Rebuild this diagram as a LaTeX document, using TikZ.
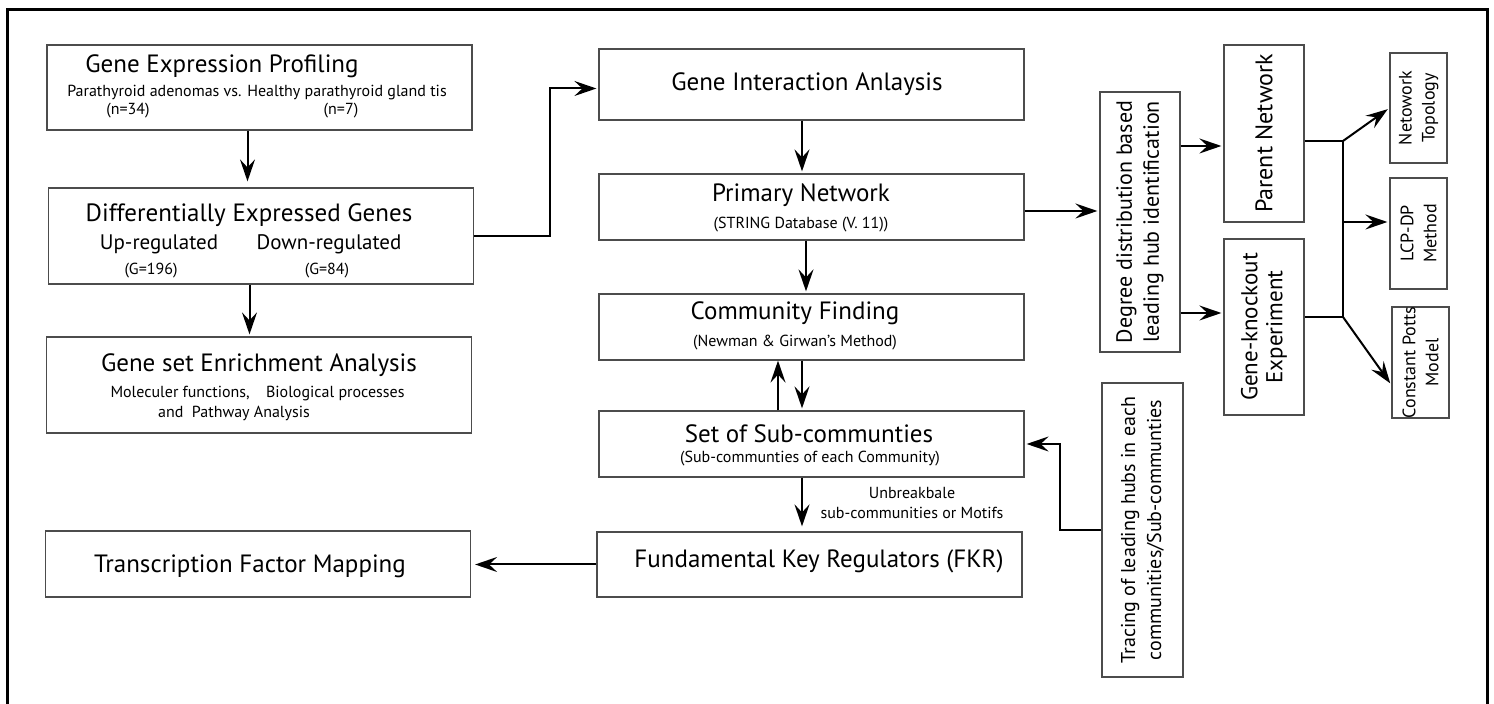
\documentclass[tikz,border=0pt]{standalone}
\usepackage{fontspec}
\setmainfont{PT Sans}
\usetikzlibrary{arrows.meta}

\tikzset{
  box/.style={draw=black!70, line width=0.6pt, minimum width=212.5pt, inner sep=0pt},
  vbox/.style={draw=black!70, line width=0.6pt, inner sep=0pt},
  flow/.style={->, line width=1pt, shorten >=1pt},
  ttl/.style={anchor=base, font=\fontsize{12.5}{15}\selectfont},
  mid/.style={anchor=base, font=\fontsize{10.5}{12}\selectfont},
  sub/.style={anchor=base, font=\fontsize{8}{10}\selectfont},
  tiny/.style={anchor=base, font=\fontsize{8}{9}\selectfont},
  rot/.style={rotate=90, align=center, font=\fontsize{11}{13.5}\selectfont},
  rsm/.style={rotate=90, align=center, font=\fontsize{9}{11.5}\selectfont},
  >={Stealth[length=11pt,width=7.5pt,inset=4pt]}
}

\begin{document}
\begin{tikzpicture}[x=0.5pt, y=-0.5pt]
    \useasboundingbox (0,0) rectangle (1494,704);
    % frame
    \draw[line width=1.5pt] (7.5,704) -- (7.5,10) -- (1487.5,10) -- (1487.5,704);

    % left column
    \node[box, minimum height=42.5pt] (gep) at (259.5,87.5) {};
    \node[ttl] (gep-t) at (222,73) {Gene Expression Profiling};
    \node[sub] (gep-s) at (257,97) {Parathyroid adenomas vs. Healthy parathyroid gland tis};
    \node[tiny] (gep-a) at (128,115) {(n=34)};
    \node[tiny] (gep-b) at (341,115) {(n=7)};

    \node[box, minimum height=48pt] (deg) at (261,236) {};
    \node[ttl] (deg-t) at (249,222) {Differentially Expressed Genes};
    \node[mid] (deg-up) at (159,250) {Up-regulated};
    \node[mid] (deg-dn) at (329,250) {Down-regulated};
    \node[tiny] (deg-a) at (151,275) {(G=196)};
    \node[tiny] (deg-b) at (327,275) {(G=84)};

    \node[box, minimum height=48pt] (gsea) at (259,385) {};
    \node[ttl] (gsea-t) at (259,372) {Gene set Enrichment Analysis};
    \node[sub] (gsea-s) at (257.5,398) {Moleculer functions,\hspace{6pt} Biological processes};
    \node[sub] (gsea-r) at (234,418) {and\ \ Pathway Analysis};

    \node[box, minimum height=33pt] (tfm) at (258,564) {};
    \node[ttl] (tfm-t) at (250,573) {Transcription Factor Mapping};

    % middle column
    \node[box, minimum height=35.5pt] (gia) at (811.5,84.5) {};
    \node[ttl] (gia-t) at (807,91) {Gene Interaction Anlaysis};

    \node[box, minimum height=33pt] (pnet) at (811.5,207) {};
    \node[ttl] (pnet-t) at (801,202) {Primary Network};
    \node[sub] (pnet-s) at (801,229) {(STRING Database (V. 11))};

    \node[box, minimum height=33pt] (cf) at (811.5,327) {};
    \node[ttl] (cf-t) at (795,320) {Community Finding};
    \node[sub] (cf-s) at (795,347) {(Newman \& Girwan’s Method)};

    \node[box, minimum height=33pt] (sos) at (811.5,444) {};
    \node[ttl] (sos-t) at (809,443) {Set of Sub-communties};
    \node[sub] (sos-s) at (810,463) {(Sub-communties of each Community)};

    \node[box, minimum height=32.5pt] (fkr) at (809.5,564.5) {};
    \node[ttl] (fkr-t) at (819,568) {Fundamental Key Regulators (FKR)};

    \node[align=center, font=\fontsize{8}{10}\selectfont] (motif) at (912,503) {Unbreakbale\\sub-communities or Motifs};

    % right part
    \node[vbox, minimum width=40pt, minimum height=130pt] (degree) at (1140,222) {};
    \node[rot] (degree-t) at (degree) {Degree distribution based\\leading hub identification};
    \node[vbox, minimum width=40pt, minimum height=88.5pt] (parent) at (1264,133.5) {};
    \node[rot, font=\fontsize{12}{13.5}\selectfont] (parent-t) at (parent) {Parent Network};
    \node[vbox, minimum width=40pt, minimum height=88pt] (gko) at (1264,327) {};
    \node[rot, font=\fontsize{11.5}{12.5}\selectfont] (gko-t) at (gko) {Gene-knockout\\Experiment};
    \node[vbox, minimum width=28.5pt, minimum height=55pt] (topo) at (1418.5,108) {};
    \node[rsm] (topo-t) at (topo) {Netowork\\Topology};
    \node[vbox, minimum width=28.5pt, minimum height=55.5pt] (lcp) at (1418.5,233.5) {};
    \node[rsm] (lcp-t) at (lcp) {LCP-DP\\Method};
    \node[vbox, minimum width=28.5pt, minimum height=55.5pt] (cpm) at (1420.5,362.5) {};
    \node[rsm] (cpm-t) at (cpm) {Constant Potts\\Model};
    \node[vbox, minimum width=40.5pt, minimum height=147pt] (tracing) at (1142.5,530) {};
    \node[rot, font=\fontsize{10}{13}\selectfont] (tracing-t) at (tracing) {Tracing of leading hubs in each\\communities/Sub-communties};

    \coordinate (jt) at (1343,141);
    \coordinate (jm) at (1343,222);
    \coordinate (jb) at (1343,317);

    % connectors
    \draw[flow, shorten >=3pt] ([xshift=-6pt]gep.south) -- ([xshift=-6pt]gep.south |- deg.north);
    \draw[flow] ([xshift=-5.75pt]deg.south) -- ([xshift=-5.75pt]deg.south |- gsea.north);
    \draw[flow] (deg.east) -- ++(38pt,0) |- ([yshift=-2pt]gia.west);
    \draw[flow] ([xshift=-4.75pt]gia.south) -- ([xshift=-4.75pt]gia.south |- pnet.north);
    \draw[flow] ([xshift=-2.75pt]pnet.south) -- ([xshift=-2.75pt]pnet.south |- cf.north);
    \draw[flow, shorten >=0pt] ([xshift=-16.75pt]sos.north) -- ([xshift=-16.75pt]sos.north |- cf.south);
    \draw[flow] ([xshift=-4.75pt]cf.south) -- ([xshift=-4.75pt]cf.south |- sos.north);
    \draw[flow, shorten >=2.5pt] ([xshift=-4.75pt]sos.south) -- ([xshift=-4.75pt]sos.south |- fkr.north);
    \draw[flow, shorten >=2pt] (fkr.west) -- (fkr.west -| tfm.east);

    \draw[flow] ([yshift=-2pt]pnet.east) -- ([yshift=-2pt]pnet.east -| degree.west);
    \draw[flow] ([yshift=-6.25pt]parent.west -| degree.east) -- ([yshift=-6.25pt]parent.west);
    \draw[flow] ([yshift=7pt]gko.west -| degree.east) -- ([yshift=7pt]gko.west);
    \draw[line width=1pt] ([yshift=-3.75pt]parent.east) -- (jt) -- (jb);
    \draw[line width=1pt] ([yshift=5pt]gko.east) -- (jb);
    \draw[flow] (jt) -- (topo.west);
    \draw[flow] (jm) -- (jm -| lcp.west);
    \draw[flow] (jb) -- ([yshift=-11.25pt]cpm.west);
    \draw[flow] (tracing.west) -- ++(-20.5pt,0) |- (sos.east);
\end{tikzpicture}
\end{document}
